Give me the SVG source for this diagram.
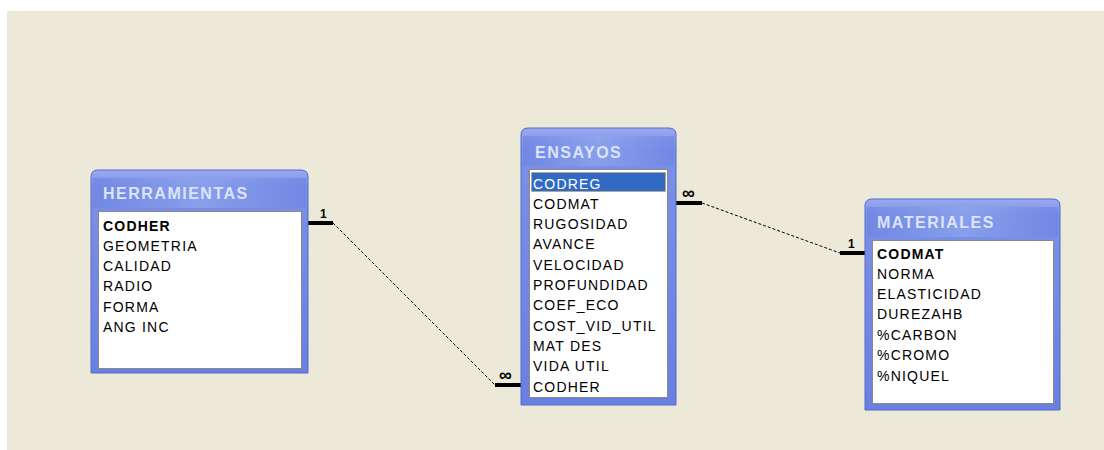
<svg xmlns="http://www.w3.org/2000/svg" width="1104" height="450" viewBox="0 0 1104 450">
  <defs>
    <linearGradient id="frameGrad" x1="0" y1="0" x2="0" y2="1">
      <stop offset="0" stop-color="#9AAAF0"/>
      <stop offset="0.08" stop-color="#7C90E6"/>
      <stop offset="1" stop-color="#6A80E0"/>
    </linearGradient>
    <linearGradient id="titleGrad" x1="0" y1="0" x2="1" y2="0">
      <stop offset="0" stop-color="#6F84E2"/>
      <stop offset="0.5" stop-color="#8CA6EE"/>
      <stop offset="1" stop-color="#6F84E2"/>
    </linearGradient>
  </defs>
  <style>
    .frame { fill: url(#frameGrad); stroke: #5468D0; stroke-width: 1; }
    .titlebar { fill: url(#titleGrad); opacity: 0.7; }
    .title { font-family: "Liberation Sans", Arial, sans-serif; font-size: 16px; font-weight: bold; fill: #DCE4FA; letter-spacing: 1.5px; }
    .list { fill: #FFFFFF; stroke: #8A8A8A; stroke-width: 1; }
    .field { font-family: "Liberation Sans", Arial, sans-serif; font-size: 14px; fill: #000000; letter-spacing: 1.2px; }
    .key { font-weight: bold; }
    .sel { fill: #316AC5; stroke: #C8A040; stroke-width: 1; stroke-dasharray: 1,1; }
    .selText { fill: #FFFFFF; }
    .thick { stroke: #000000; stroke-width: 4; fill: none; }
    .thin { stroke: #000000; stroke-width: 1; stroke-dasharray: 3,2; fill: none; }
    .card { font-family: "Liberation Sans", Arial, sans-serif; font-weight: bold; fill: #000000; }
  </style>

  <!-- canvas -->
  <rect x="0" y="0" width="1104" height="450" fill="#FFFFFF"/>
  <rect x="7" y="11" width="1097" height="439" fill="#ECE9D8"/>

  <!-- relationships -->
  <g id="connectors">
    <line class="thick" x1="308" y1="223" x2="333" y2="223"/>
    <line class="thin" x1="333" y1="223" x2="495" y2="385"/>
    <line class="thick" x1="495" y1="385" x2="521" y2="385"/>
    <text class="card" x="320" y="218" font-size="12">1</text>
    <text class="card" x="499" y="381" font-size="18">∞</text>

    <line class="thick" x1="676" y1="203" x2="702" y2="203"/>
    <line class="thin" x1="702" y1="203" x2="840" y2="253"/>
    <line class="thick" x1="840" y1="253" x2="865" y2="253"/>
    <text class="card" x="682" y="199" font-size="18">∞</text>
    <text class="card" x="848" y="248" font-size="12">1</text>
  </g>

  <!-- HERRAMIENTAS table -->
  <g id="herramientas">
    <path class="frame" d="M91,373 V177 Q91,170 98,170 H301 Q308,170 308,177 V373 Z"/>
    <rect class="titlebar" x="93" y="178" width="213" height="30"/>
    <text class="title" x="103" y="199">HERRAMIENTAS</text>
    <rect class="list" x="98.5" y="211.5" width="203" height="157"/>
    <text class="field key" x="103" y="231">CODHER</text>
    <text class="field" x="103" y="251">GEOMETRIA</text>
    <text class="field" x="103" y="271">CALIDAD</text>
    <text class="field" x="103" y="291">RADIO</text>
    <text class="field" x="103" y="312">FORMA</text>
    <text class="field" x="103" y="332">ANG INC</text>
  </g>

  <!-- ENSAYOS table -->
  <g id="ensayos">
    <path class="frame" d="M521,405 V135 Q521,128 528,128 H669 Q676,128 676,135 V405 Z"/>
    <rect class="titlebar" x="523" y="136" width="151" height="30"/>
    <text class="title" x="535" y="158">ENSAYOS</text>
    <rect class="list" x="529.5" y="169.5" width="138" height="228"/>
    <rect class="sel" x="531.5" y="172.5" width="134" height="19"/>
    <text class="field selText" x="533" y="189">CODREG</text>
    <text class="field" x="533" y="209">CODMAT</text>
    <text class="field" x="533" y="229">RUGOSIDAD</text>
    <text class="field" x="533" y="249">AVANCE</text>
    <text class="field" x="533" y="270">VELOCIDAD</text>
    <text class="field" x="533" y="290">PROFUNDIDAD</text>
    <text class="field" x="533" y="310">COEF_ECO</text>
    <text class="field" x="533" y="331">COST_VID_UTIL</text>
    <text class="field" x="533" y="351">MAT DES</text>
    <text class="field" x="533" y="371">VIDA UTIL</text>
    <text class="field" x="533" y="392">CODHER</text>
  </g>

  <!-- MATERIALES table -->
  <g id="materiales">
    <path class="frame" d="M865,410 V206 Q865,199 872,199 H1053 Q1060,199 1060,206 V410 Z"/>
    <rect class="titlebar" x="867" y="207" width="191" height="30"/>
    <text class="title" x="877" y="228">MATERIALES</text>
    <rect class="list" x="872.5" y="240.5" width="181" height="163"/>
    <text class="field key" x="877" y="259">CODMAT</text>
    <text class="field" x="877" y="279">NORMA</text>
    <text class="field" x="877" y="299">ELASTICIDAD</text>
    <text class="field" x="877" y="319">DUREZAHB</text>
    <text class="field" x="877" y="340">%CARBON</text>
    <text class="field" x="877" y="360">%CROMO</text>
    <text class="field" x="877" y="381">%NIQUEL</text>
  </g>
</svg>
